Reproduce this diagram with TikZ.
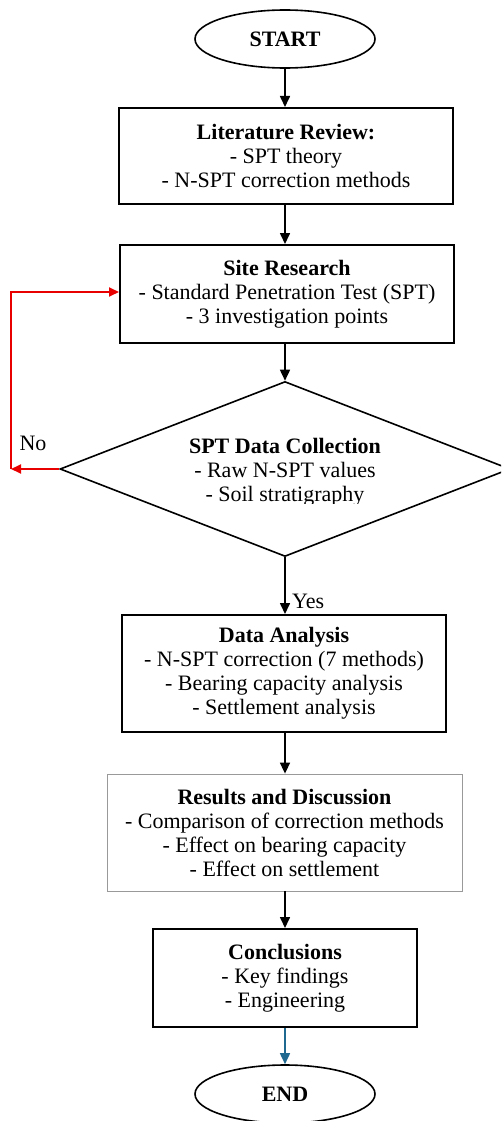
\documentclass[tikz,border=0pt]{standalone}
\usepackage{fontspec}
\setmainfont{Liberation Serif}
\usetikzlibrary{arrows.meta,shapes.geometric}
\definecolor{redline}{RGB}{232,0,0}
\definecolor{blueline}{RGB}{31,105,145}
\begin{document}
\begin{tikzpicture}[x=1pt,y=-1pt,
  every node/.style={font=\fontsize{22}{24}\selectfont, inner sep=0pt},
  boxnode/.style={draw, line width=2pt, rectangle, align=center},
  thinbox/.style={draw=gray!80, line width=0.8pt, rectangle, align=center},
  ovalnode/.style={draw, line width=1.6pt, ellipse, minimum width=180pt, minimum height=58pt, font=\fontsize{22}{24}\selectfont\bfseries},
  flow/.style={line width=1.6pt, -{Triangle[length=11pt,width=10pt]}},
  blueflow/.style={line width=1.6pt, color=blueline, -{Triangle[length=11pt,width=10pt]}},
  redflow/.style={line width=1.8pt, color=redline, -{Triangle[length=10pt,width=9pt]}},
  decision/.style={draw, line width=1.6pt, diamond, minimum width=450pt, minimum height=175pt}
]
\path[use as bounding box, clip] (0,0) rectangle (501,1121);

\node[ovalnode] (start) at (285,39) {START};
\node[boxnode, minimum width=334pt, minimum height=96pt] (lit) at (286,156)
  {\textbf{Literature Review:}\\- SPT theory\\- N-SPT correction methods};
\node[boxnode, minimum width=334pt, minimum height=98pt] (site) at (287,294)
  {\textbf{Site Research}\\- Standard Penetration Test (SPT)\\- 3 investigation points};
\node[decision] (dia) at (285,469) {};
\begin{scope}
  \clip (0,0) rectangle (501,503);
  \node[align=center] (diatext) at (285,472.5)
    {\textbf{SPT Data Collection}\\- Raw N-SPT values\\- Soil stratigraphy};
\end{scope}
\node[boxnode, minimum width=324pt, minimum height=117pt] (data) at (284,673.5)
  {\textbf{Data Analysis}\\- N-SPT correction (7 methods)\\- Bearing capacity analysis\\- Settlement analysis};
\node[thinbox, minimum width=355pt, minimum height=117pt] (res) at (284.5,832.5)
  {\textbf{Results and Discussion}\\- Comparison of correction methods\\- Effect on bearing capacity\\- Effect on settlement};
\node[boxnode, minimum width=264pt, minimum height=98pt] (concl) at (285,978)
  {\textbf{Conclusions}\\- Key findings\\- Engineering};
\node[ovalnode] (end) at (285,1094) {END};

\draw[flow] (start.south) -- (start.south |- lit.north);
\draw[flow] (start.south |- lit.south) -- (start.south |- site.north);
\draw[flow] (start.south |- site.south) -- (dia.north);
\draw[flow] (dia.south) -- (dia.south |- data.north);
\draw[flow] (dia.south |- data.south) -- (dia.south |- res.north);
\draw[flow] (dia.south |- res.south) -- (dia.south |- concl.north);
\draw[blueflow] (dia.south |- concl.south) -- (end.north);

\coordinate (cornerL) at (11,469);
\coordinate (cornerT) at (11,292);
\draw[redflow] (dia.west) -- (cornerL);
\draw[redflow] (cornerL) -- (cornerT) -- (site.west |- cornerT);

\node (no) at (33,443) {No};
\node[anchor=west] (yes) at (292,601) {Yes};
\end{tikzpicture}
\end{document}
